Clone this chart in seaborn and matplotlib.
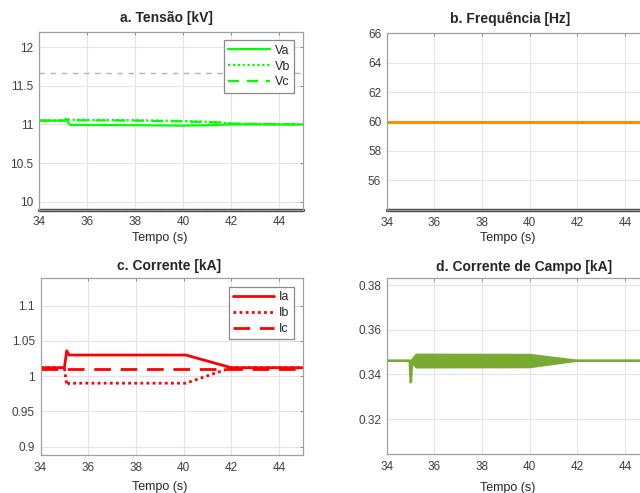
import numpy as np
import pandas as pd
import matplotlib
matplotlib.use("Agg")
import matplotlib.pyplot as plt
import seaborn as sns

sns.set_style("white")
plt.rcParams['font.family'] = ['Liberation Sans', 'DejaVu Sans']

# ---------------- data ----------------
# a. Voltage [kV]
t_va = [34.0, 35.05, 35.12, 35.2, 35.3, 38.0, 40.0, 41.0, 42.0, 45.0]
va = [11.05, 11.05, 11.075, 11.03, 10.995, 10.99, 10.985, 10.99, 11.0, 11.0]
t_vbc = [34.0, 35.05, 35.15, 35.3, 38.0, 40.0, 41.5, 42.0, 45.0]
vb = [11.05, 11.05, 11.07, 11.06, 11.055, 11.045, 11.03, 11.01, 11.0]
vc = [11.05, 11.05, 11.065, 11.055, 11.05, 11.04, 11.025, 11.01, 11.0]
v_limits = [11.66, 9.9]

# b. Frequency [Hz]
t_f = [34.0, 38.0, 45.0]
freq = [60.0, 60.0, 60.0]
f_limit = [54.0]

# c. Current [kA]
t_i = [34.0, 35.0, 35.1, 35.2, 40.1, 42.0, 45.0]
ia = [1.012, 1.012, 1.036, 1.030, 1.030, 1.012, 1.012]
ib = [1.012, 1.012, 0.987, 0.990, 0.990, 1.012, 1.012]
ic = [1.010, 1.010, 1.010, 1.010, 1.010, 1.010, 1.010]

# d. Field current [kA] (envelope of fast oscillation)
t_fc = [34.0, 34.96, 35.0, 35.03, 35.06, 35.12, 35.25, 40.0, 42.0, 45.0]
fc_upper = [0.3461, 0.3461, 0.3461, 0.3461, 0.3461, 0.3472, 0.3488, 0.3487, 0.3461, 0.3461]
fc_lower = [0.3461, 0.3461, 0.3364, 0.3370, 0.3461, 0.3445, 0.3431, 0.3432, 0.3461, 0.3461]

xticks = [34, 36, 38, 40, 42, 44]

# ---------------- figure ----------------
fig = plt.figure(figsize=(6.4, 4.93), dpi=100)
ax_a = fig.add_axes([39/640, 1-209.5/493, 264/640, 177.8/493])
ax_b = fig.add_axes([386.7/640, 1-209.7/493, 262.3/640, 176.4/493])
ax_c = fig.add_axes([40.5/640, 1-455/493, 262.2/640, 176.7/493])
ax_d = fig.add_axes([386.7/640, 1-454.3/493, 262.3/640, 176/493])

green = '#00ff00'
red = '#ff0000'
orange = '#ff8a10'
fgreen = '#77ac30'

def style(ax, ylim, yticks, yfmt):
    ax.set_xlim(34, 45)
    ax.set_ylim(*ylim)
    ax.set_xticks(xticks)
    ax.set_yticks(yticks)
    ax.set_yticklabels([yfmt(v) for v in yticks])
    ax.grid(True, color='#e4e4e4', linewidth=0.8)
    ax.set_axisbelow(True)
    for s in ax.spines.values():
        s.set_color('#a0a0a0')
        s.set_linewidth(0.9)
    ax.tick_params(axis='both', which='both', direction='in', length=2.5,
                   width=0.7, color='#8a8a8a', labelsize=8.5, labelcolor='#404040',
                   top=True, right=True, pad=4)
    ax.tick_params(axis='x', pad=5)
    ax.set_xlabel('Tempo (s)', fontsize=9, color='#262626')
    ax.set_ylabel('')

def fmt_g(v):
    return ('%g' % v)

# a
sns.lineplot(x=t_va, y=va, ax=ax_a, color=green, linewidth=1.6, label='Va', sort=False)
sns.lineplot(x=t_vbc, y=vb, ax=ax_a, color=green, linewidth=1.6, linestyle=(0, (1, 1.2)), label='Vb', sort=False)
sns.lineplot(x=t_vbc, y=vc, ax=ax_a, color=green, linewidth=1.6, linestyle=(0, (5, 3.5)), label='Vc', sort=False)
ax_a.axhline(v_limits[0], color='#b4b4b4', linewidth=1.0, linestyle=(0, (4, 4)))
ax_a.axhline(v_limits[1], color='#3a3a3a', linewidth=2.4, clip_on=False)
ax_a.axhline(v_limits[1], color='#8a8a8a', linewidth=0.8, linestyle=(0, (4, 4)), clip_on=False)
style(ax_a, (9.9, 12.2), [10, 10.5, 11, 11.5, 12], fmt_g)
ax_a.set_title('a. Tensão [kV]', fontsize=10, fontweight='bold', x=0.484, y=1.056, pad=0)
ax_a.xaxis.set_label_coords(0.458, -0.125)

# b
sns.lineplot(x=t_f, y=freq, ax=ax_b, color=orange, linewidth=2.2)
ax_b.axhline(f_limit[0], color='#3a3a3a', linewidth=2.4, clip_on=False)
style(ax_b, (54, 66), [56, 58, 60, 62, 64, 66], fmt_g)
ax_b.set_title('b. Frequência [Hz]', fontsize=10, fontweight='bold', x=0.469, y=1.06, pad=0)
ax_b.xaxis.set_label_coords(0.4625, -0.125)

# c
sns.lineplot(x=t_i, y=ia, ax=ax_c, color=red, linewidth=2.0, label='Ia', sort=False)
sns.lineplot(x=t_i, y=ib, ax=ax_c, color=red, linewidth=2.0, linestyle=(0, (1, 1.2)), label='Ib', sort=False)
sns.lineplot(x=t_i, y=ic, ax=ax_c, color=red, linewidth=2.0, linestyle=(0, (6, 3.5)), label='Ic', sort=False)
style(ax_c, (0.888, 1.139), [0.9, 0.95, 1.0, 1.05, 1.1], fmt_g)
ax_c.set_title('c. Corrente [kA]', fontsize=10, fontweight='bold', x=0.492, y=1.047, pad=0)
ax_c.xaxis.set_label_coords(0.456, -0.145)

# d
ax_d.fill_between(t_fc, fc_lower, fc_upper, color=fgreen, linewidth=0)
sns.lineplot(x=t_fc, y=fc_upper, ax=ax_d, color=fgreen, linewidth=1.6, sort=False)
sns.lineplot(x=t_fc, y=fc_lower, ax=ax_d, color=fgreen, linewidth=1.6, sort=False)
style(ax_d, (0.3042, 0.383), [0.32, 0.34, 0.36, 0.38], lambda v: '%.2f' % v)
ax_d.set_title('d. Corrente de Campo [kA]', fontsize=10, fontweight='bold', x=0.523, y=1.043, pad=0)
ax_d.xaxis.set_label_coords(0.4625, -0.155)

for ax in (ax_a, ax_c):
    leg = ax.legend(loc='upper right', fontsize=9, frameon=True, fancybox=False,
                    edgecolor='#8a8a8a', framealpha=1, handlelength=3.3,
                    labelspacing=0.3, borderpad=0.35, borderaxespad=0.7,
                    handletextpad=0.4)
    leg.get_frame().set_linewidth(0.9)

fig.savefig('out.png', dpi=100)
